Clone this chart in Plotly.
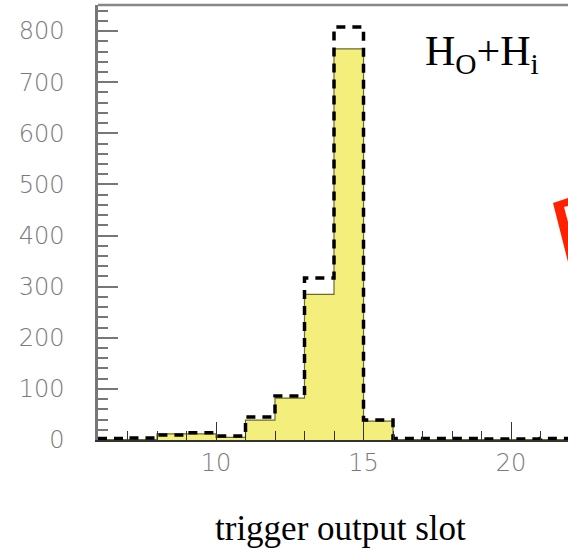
import plotly.graph_objects as go

# ---- data ----
bin_edges = list(range(6, 23))  # 6 .. 22
solid_counts = [1, 1, 12, 12, 5, 39, 82, 285, 765, 37, 1, 1, 1, 1, 1, 1]
dashed_counts = [3, 4, 10, 14, 8, 45, 86, 317, 808, 39, 3, 3, 3, 2, 2, 3]
x_ticks = [10, 15, 20]
y_ticks = [0, 100, 200, 300, 400, 500, 600, 700, 800]

W, H = 568, 551
L, R, T, B = 98, 0, 5, 111

fig = go.Figure()

fig.add_trace(go.Scatter(
    x=bin_edges, y=solid_counts + [solid_counts[-1]],
    mode="lines", line=dict(shape="hv", color="#6b6b2a", width=1.2),
    fill="tozeroy", fillcolor="#f4ef7c", hoverinfo="skip", showlegend=False))

fig.add_trace(go.Scatter(
    x=bin_edges, y=dashed_counts + [dashed_counts[-1]],
    mode="lines", line=dict(shape="hv", color="black", width=3.5, dash="9px,7px"),
    hoverinfo="skip", showlegend=False))

tickfont = dict(family="DejaVu Sans", size=24, color="#7a7a7a", weight=200)

fig.update_layout(
    width=W, height=H,
    margin=dict(l=L, r=R, t=T, b=B),
    paper_bgcolor="white", plot_bgcolor="white",
    xaxis=dict(range=[6, 6 + (W - L - R) / 29.5], tickvals=x_ticks,
               ticks="inside", ticklen=18, tickcolor="#333333", tickwidth=1,
               minor=dict(dtick=1, ticklen=9, ticks="inside", tickcolor="#333333"),
               showline=True, linecolor="#333333", linewidth=2,
               showgrid=False, zeroline=False, tickfont=tickfont,
               ticklabelstandoff=0, mirror=False),
    yaxis=dict(range=[0, 851], tickvals=y_ticks,
               ticks="inside", ticklen=20, tickcolor="#777777", tickwidth=1.5,
               minor=dict(dtick=20, ticklen=10, ticks="inside", tickcolor="#777777"),
               showline=True, linecolor="#777777", linewidth=2.5,
               showgrid=False, zeroline=False, tickfont=tickfont,
               ticklabelstandoff=26),
)

# top frame line
fig.add_shape(type="line", xref="paper", yref="paper", x0=0, x1=1, y0=1, y1=1,
              line=dict(color="#888888", width=2.5))

def px(xp):
    return (xp - L) / (W - L - R)

def py(yp):
    return (H - B - yp) / (H - T - B)

# red arrow fragment at right edge
pts = [(553, 203), (568, 198), (568, 206), (564, 207), (568, 222), (568, 262)]
path = "M " + " L ".join(f"{px(a):.4f},{py(b):.4f}" for a, b in pts) + " Z"
fig.add_shape(type="path", xref="paper", yref="paper", path=path,
              fillcolor="#ff2200", line=dict(width=0))

fig.add_annotation(xref="paper", yref="paper", x=px(482), y=py(54),
                   xanchor="center", yanchor="middle",
                   text="H<sub>O</sub>+H<sub>i</sub>", showarrow=False,
                   font=dict(family="Liberation Serif", size=42, color="black"))

fig.add_annotation(xref="paper", yref="paper", x=px(340), y=py(528),
                   xanchor="center", yanchor="middle",
                   text="trigger output slot", showarrow=False,
                   font=dict(family="Liberation Serif", size=35, color="black"))

fig.write_html("out.html")
